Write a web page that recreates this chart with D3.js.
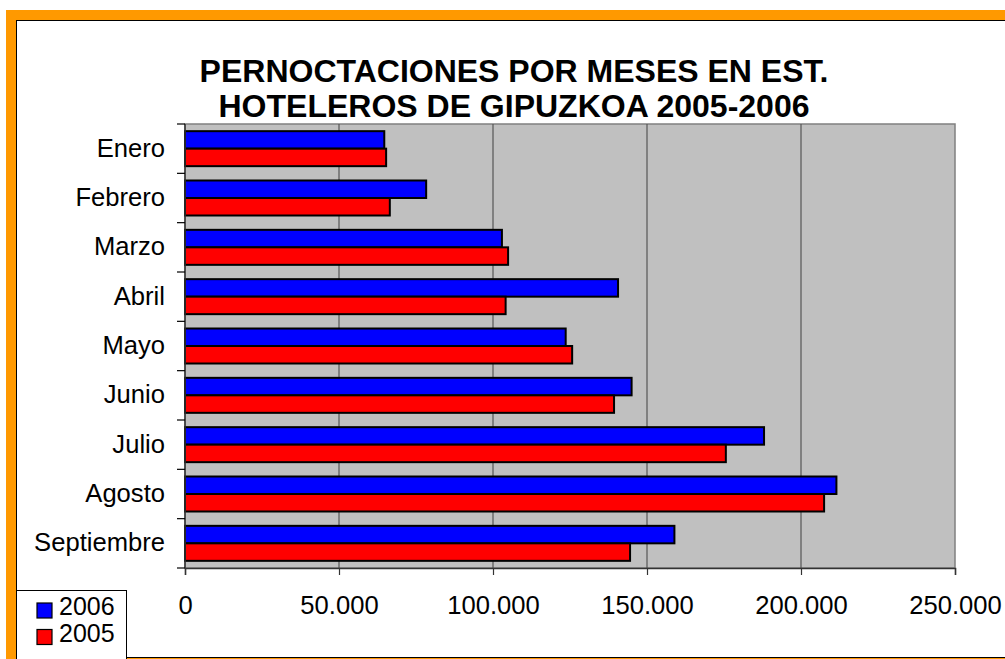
<!DOCTYPE html>
<html>
<head>
<meta charset="utf-8">
<script src="https://cdn.jsdelivr.net/npm/d3@7"></script>
<style>
  body { margin: 0; background: #fff; }
  svg { display: block; font-family: "Liberation Sans", Arial, sans-serif; }
</style>
</head>
<body>
<div id="chart"></div>
<script>
// data
const months = ['Enero', 'Febrero', 'Marzo', 'Abril', 'Mayo', 'Junio', 'Julio', 'Agosto', 'Septiembre'];
const seriesNames = ['2006', '2005'];
const values2006 = [64700, 78300, 102900, 140600, 123600, 145000, 188000, 211500, 158900];
const values2005 = [65300, 66500, 104900, 104100, 125700, 139300, 175600, 207500, 144500];
const seriesColors = ['#0000FF', '#FF0000'];
const xTicks = [0, 50000, 100000, 150000, 200000, 250000];
const titleLines = ['PERNOCTACIONES POR MESES EN EST.', 'HOTELEROS DE GIPUZKOA 2005-2006'];

const W = 1005, H = 659;
const plot = { left: 185, top: 124, right: 955, bottom: 568 };
const labelSize = 25.6;

const svg = d3.select('#chart').append('svg')
    .attr('width', W)
    .attr('height', H);

// orange frame + white chart area
svg.append('rect')
    .attr('x', 6).attr('y', 10)
    .attr('width', 1100).attr('height', 700)
    .attr('fill', '#FF9900');
svg.append('rect')
    .attr('x', 16.5).attr('y', 20.5)
    .attr('width', 1100).attr('height', 637)
    .attr('fill', '#fff')
    .attr('stroke', '#000')
    .attr('stroke-width', 1);

// title
svg.append('text')
    .attr('text-anchor', 'middle')
    .attr('font-size', 32)
    .attr('font-weight', 'bold')
    .selectAll('tspan')
    .data(titleLines)
    .join('tspan')
    .attr('x', 514)
    .attr('y', (d, i) => 82 + i * 35)
    .text(d => d);

const x = d3.scaleLinear().domain([0, 250000]).range([plot.left, plot.right]);
const y = d3.scaleBand().domain(months).range([plot.top, plot.bottom]);
const pad = (y.bandwidth() - 35) / 2;
const ySub = d3.scaleBand().domain(seriesNames).range([pad, y.bandwidth() - pad]);

// plot background
svg.append('rect')
    .attr('x', plot.left).attr('y', plot.top)
    .attr('width', plot.right - plot.left).attr('height', plot.bottom - plot.top)
    .attr('fill', '#C0C0C0')
    .attr('stroke', '#808080')
    .attr('stroke-width', 1.5);

// gridlines
svg.append('g')
    .selectAll('line')
    .data(xTicks.slice(1, -1))
    .join('line')
    .attr('x1', d => x(d)).attr('x2', d => x(d))
    .attr('y1', plot.top).attr('y2', plot.bottom)
    .attr('stroke', '#555')
    .attr('stroke-width', 1.2);

// bars
const rows = months.map((m, i) => ({ month: m, vals: [values2006[i], values2005[i]] }));
const groups = svg.append('g')
    .selectAll('g')
    .data(rows)
    .join('g')
    .attr('transform', d => `translate(0,${y(d.month)})`);

groups.selectAll('rect')
    .data(d => d.vals.map((v, j) => ({ series: seriesNames[j], value: v, color: seriesColors[j] })))
    .join('rect')
    .attr('x', x(0))
    .attr('y', d => ySub(d.series))
    .attr('width', d => x(d.value) - x(0))
    .attr('height', ySub.bandwidth())
    .attr('fill', d => d.color)
    .attr('stroke', '#000')
    .attr('stroke-width', 2);

// x axis
const xAxis = svg.append('g')
    .attr('transform', `translate(0,${plot.bottom})`)
    .call(d3.axisBottom(x)
        .tickValues(xTicks)
        .tickSize(7)
        .tickFormat(d => d3.format(',')(d).replace(/,/g, '.')));
xAxis.select('.domain').attr('stroke', '#333').attr('stroke-width', 1.5);
xAxis.selectAll('.tick line').attr('stroke', '#333').attr('stroke-width', 1.2);
xAxis.selectAll('.tick text')
    .attr('font-size', labelSize)
    .attr('font-family', '"Liberation Sans", Arial, sans-serif')
    .attr('fill', '#000')
    .attr('dy', null)
    .attr('y', 46);

// y axis: line + ticks at category boundaries
svg.append('line')
    .attr('x1', plot.left).attr('x2', plot.left)
    .attr('y1', plot.top).attr('y2', plot.bottom)
    .attr('stroke', '#333').attr('stroke-width', 1.5);
svg.append('g')
    .selectAll('line')
    .data(d3.range(months.length + 1))
    .join('line')
    .attr('x1', plot.left - 8).attr('x2', plot.left)
    .attr('y1', i => plot.top + i * y.step())
    .attr('y2', i => plot.top + i * y.step())
    .attr('stroke', '#000').attr('stroke-width', 1.2);

svg.append('g')
    .selectAll('text')
    .data(months)
    .join('text')
    .attr('x', 165)
    .attr('y', d => y(d) + y.bandwidth() / 2 + 8)
    .attr('text-anchor', 'end')
    .attr('font-size', labelSize)
    .text(d => d);

// legend
const legend = svg.append('g');
legend.append('rect')
    .attr('x', 16.5).attr('y', 590.5)
    .attr('width', 110).attr('height', 80)
    .attr('fill', '#fff')
    .attr('stroke', '#000')
    .attr('stroke-width', 1);
const items = legend.selectAll('g.item')
    .data(seriesNames)
    .join('g')
    .attr('class', 'item')
    .attr('transform', (d, i) => `translate(0,${i * 26.5})`);
items.append('rect')
    .attr('x', 37).attr('y', 603)
    .attr('width', 15).attr('height', 15)
    .attr('fill', (d, i) => seriesColors[i])
    .attr('stroke', '#000')
    .attr('stroke-width', 1.2);
items.append('text')
    .attr('x', 59).attr('y', 615)
    .attr('font-size', 25)
    .text(d => d);
</script>
</body>
</html>
